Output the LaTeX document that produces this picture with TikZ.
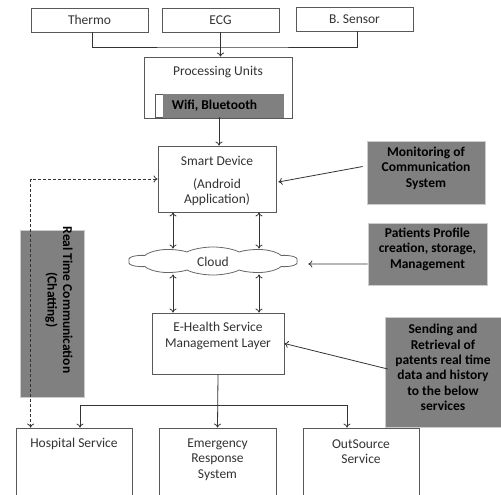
\documentclass[tikz,border=0pt]{standalone}
\usepackage{fontspec}
\setmainfont{Carlito}
\usetikzlibrary{shapes.symbols,calc,arrows.meta}
\begin{document}
\begin{tikzpicture}[x=1pt,y=-1pt,
  font=\fontsize{13.5}{15.4}\selectfont,
  box/.style={draw=black!65, line width=0.8pt, fill=white, inner sep=0pt},
  gbox/.style={draw=black!20, line width=0.6pt, fill=black!50, inner sep=0pt},
  txt/.style={text=black!80, align=center, inner sep=0pt},
  btxt/.style={text=black, font=\fontsize{13.5}{15.4}\selectfont\bfseries, align=center, inner sep=0pt},
  conn/.style={draw=black!80, line width=0.8pt},
  arr/.style={conn, -{To[length=4pt,width=7pt]}},
  darr/.style={conn, {To[length=4pt,width=7pt]}-{To[length=4pt,width=7pt]}}
]
\useasboundingbox (0,0) rectangle (501,495);
% sensors
\node[box, minimum width=117pt, minimum height=24pt] (thermo) at (89.5,20) {};
\node[txt] (thermot) at (thermo) {Thermo};
\node[box, minimum width=117pt, minimum height=24pt] (ecg) at (220.5,20) {};
\node[txt] (ecgt) at (ecg) {ECG};
\node[box, minimum width=117pt, minimum height=24pt] (bsens) at (354.5,19) {};
\node[txt] (bsenst) at (bsens) {B. Sensor};
% processing
\node[box, minimum width=148pt, minimum height=61pt] (proc) at (218,87.5) {};
\node[txt] (proct) at (218,72) {Processing Units};
\node[box, minimum width=128pt, minimum height=23pt] (wifi) at (219,105.5) {};
\node[gbox, draw=black!50, minimum width=120pt, minimum height=23pt] (wifig) at (223,105.5) {};
\node[btxt] (wifit) at (214.5,106) {Wifi, Bluetooth};
% smart device
\node[box, minimum width=118pt, minimum height=66pt] (smart) at (217,179) {};
\node[txt] (smartt) at (217,181) {Smart Device\\[8pt](Android\\Application)};
% cloud
\node[cloud, draw=black!60, line width=0.8pt, fill=white, cloud puffs=10, cloud puff arc=120, aspect=2.1,
      minimum width=56.7pt, minimum height=28pt, inner sep=0pt, transform shape, xscale=3] (cloud) at (213,261) {};
\node[txt] (cloudt) at (213,262) {Cloud};
% e-health
\node[box, minimum width=132pt, minimum height=61pt] (ehealth) at (218,343.5) {};
\node[txt] (ehealtht) at (218,336) {E-Health Service\\Management Layer};
% right gray boxes
\node[gbox, minimum width=118pt, minimum height=63pt] (mon) at (426,172.5) {};
\node[btxt] (mont) at (426,168) {Monitoring of\\Communication\\System};
\node[gbox, minimum width=119pt, minimum height=62pt] (pat) at (427.5,254) {};
\node[btxt] (patt) at (427.5,249) {Patients Profile\\creation, storage,\\Management};
\node[gbox, minimum width=118pt, minimum height=110pt] (send) at (444,372) {};
\node[btxt] (sendt) at (443,367.5) {Sending and\\Retrieval of\\patents real time\\data and history\\to the below\\services};
% real time communication
\node[gbox, minimum width=64pt, minimum height=167pt] (rtc) at (52,313.5) {};
\node[btxt, rotate=-90] (rtct) at (59,300) {Real Time Communication\\(Chatting)};
% bottom boxes
\node[box, minimum width=116pt, minimum height=70pt] (hosp) at (74,463) {};
\node[txt] (hospt) at (74,444) {Hospital Service};
\node[box, minimum width=117pt, minimum height=70pt] (emerg) at (217.5,463) {};
\node[txt] (emergt) at (217.5,459.5) {Emergency\\Response\\System};
\node[box, minimum width=116pt, minimum height=70pt] (outs) at (361,463) {};
\node[txt] (outst) at (361,451.5) {OutSource\\Service};
% connectors
\coordinate (junc) at (220.5,47);
\draw[conn] ($(thermo.south)+(2.5,0)$) |- (junc) -| ($(bsens.south)+(3,0)$);
\draw[arr] (ecg.south) -- (proc.north -| ecg.south);
\draw[arr] (wifi.south) -- (smart.north -| wifi.south);
\coordinate (cL) at (173,0);
\coordinate (cR) at (259,0);
\draw[darr] (smart.south -| cL) -- ($(cloud.north -| cL)+(0,2)$);
\draw[darr] (smart.south -| cR) -- ($(cloud.north -| cR)+(0,2)$);
\draw[darr] ($(cloud.south -| cL)+(0,-1)$) -- (ehealth.north -| cL);
\draw[darr] ($(cloud.south -| cR)+(0,-1)$) -- (ehealth.north -| cR);
\draw[arr] ($(mon.west)+(-4,-6)$) -- ($(smart.east)+(2,3)$);
\draw[arr] ($(pat.west)+(0,10)$) -- ($(cloud.east)+(10,3)$);
\draw[arr] ($(send.west)+(3,-3)$) -- (ehealth.east);
\draw[arr] (ehealth.south) -- (emerg.north);
\coordinate (bus) at (218,405);
\draw[arr] (bus) -| ($(hosp.north)+(6,0)$);
\draw[arr] (bus) -| ($(outs.north)+(-14,0)$);
\draw[conn, dash pattern=on 3pt off 2pt, {To[length=4pt,width=7pt]}-{To[length=4pt,width=7pt]}]
  ($(hosp.north west)+(15,0)$) |- (smart.west);
\end{tikzpicture}
\end{document}
